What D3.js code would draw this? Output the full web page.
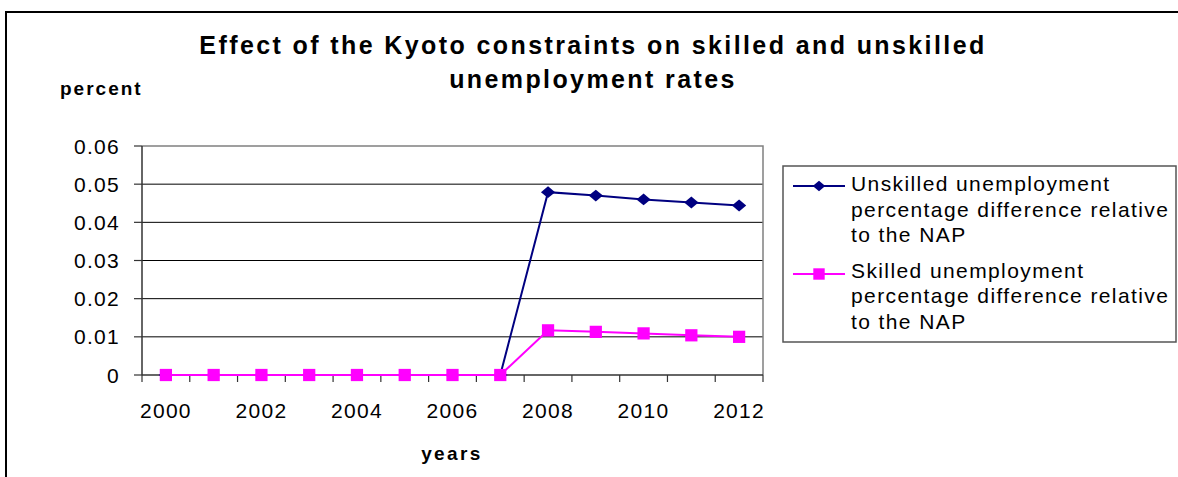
<!DOCTYPE html>
<html>
<head>
<meta charset="utf-8">
<script src="https://cdn.jsdelivr.net/npm/d3@7"></script>
<style>
  body { margin: 0; background: #fff; }
  text { font-family: "Liberation Sans", Arial, sans-serif; fill: #000; }
</style>
</head>
<body>
<svg id="chart" width="1178" height="477"></svg>
<script>
const years = [2000, 2001, 2002, 2003, 2004, 2005, 2006, 2007, 2008, 2009, 2010, 2011, 2012];
const unskilled = [0, 0, 0, 0, 0, 0, 0, 0, 0.0479, 0.0470, 0.0460, 0.0452, 0.0444];
const skilled = [0, 0, 0, 0, 0, 0, 0, 0, 0.0117, 0.0113, 0.0109, 0.0104, 0.0100];
const yTicks = [0, 0.01, 0.02, 0.03, 0.04, 0.05, 0.06];
const xLabels = [2000, 2002, 2004, 2006, 2008, 2010, 2012];

const svg = d3.select('#chart');

// outer frame (runs off right and bottom)
svg.append('rect')
    .attr('x', 6).attr('y', 12).attr('width', 1200).attr('height', 500)
    .attr('fill', 'none').attr('stroke', '#000').attr('stroke-width', 2);

const plot = {left: 142, right: 763, top: 146, bottom: 375};

const x = d3.scaleBand().domain(years).range([plot.left, plot.right]);
const cx = d => x(d) + x.bandwidth() / 2;
const y = d3.scaleLinear().domain([0, 0.06]).range([plot.bottom, plot.top]);

// diamond a bit wider than tall, like the excel marker
const wideDiamond = {
    draw(ctx, size) {
        const w = Math.sqrt(size) * 0.6, h = Math.sqrt(size) * 0.5;
        ctx.moveTo(0, -h); ctx.lineTo(w, 0); ctx.lineTo(0, h); ctx.lineTo(-w, 0); ctx.closePath();
    }
};

// gridlines
svg.append('g').selectAll('line')
    .data(yTicks.filter(t => t > 0 && t < 0.06))
    .enter().append('line')
    .attr('x1', plot.left).attr('x2', plot.right)
    .attr('y1', d => y(d)).attr('y2', d => y(d))
    .attr('stroke', '#000').attr('stroke-width', 1);

// plot area border (top + right)
svg.append('path')
    .attr('d', `M${plot.left},${y(0.06)}H${plot.right}V${plot.bottom}`)
    .attr('fill', 'none').attr('stroke', '#808080').attr('stroke-width', 1.5);

// y axis
const yAxis = svg.append('g');
yAxis.append('line')
    .attr('x1', plot.left).attr('x2', plot.left)
    .attr('y1', plot.top).attr('y2', plot.bottom)
    .attr('stroke', '#333').attr('stroke-width', 1.5);
yAxis.selectAll('line.tick')
    .data(yTicks).enter().append('line').classed('tick', true)
    .attr('x1', plot.left - 8).attr('x2', plot.left)
    .attr('y1', d => y(d)).attr('y2', d => y(d))
    .attr('stroke', '#333').attr('stroke-width', 1.2);
yAxis.selectAll('text')
    .data(yTicks).enter().append('text')
    .attr('x', 120).attr('y', d => y(d))
    .attr('text-anchor', 'end').attr('dominant-baseline', 'central')
    .attr('font-size', 21).attr('letter-spacing', 1.3)
    .text(d => d === 0 ? '0' : d.toFixed(2));

// x axis
const xAxis = svg.append('g');
xAxis.append('line')
    .attr('x1', plot.left).attr('x2', plot.right)
    .attr('y1', plot.bottom).attr('y2', plot.bottom)
    .attr('stroke', '#333').attr('stroke-width', 1.5);
const bounds = years.map(d => x(d)).concat([x.range()[1]]);
xAxis.selectAll('line.tick')
    .data(bounds).enter().append('line').classed('tick', true)
    .attr('x1', d => d).attr('x2', d => d)
    .attr('y1', plot.bottom).attr('y2', plot.bottom + 7)
    .attr('stroke', '#333').attr('stroke-width', 1.2);
xAxis.selectAll('text')
    .data(xLabels).enter().append('text')
    .attr('x', d => cx(d)).attr('y', 418)
    .attr('text-anchor', 'middle')
    .attr('font-size', 21).attr('letter-spacing', 1.3)
    .text(d => d);

// titles
const title = svg.append('text')
    .attr('text-anchor', 'middle').attr('font-size', 25)
    .attr('font-weight', 'bold').attr('letter-spacing', 2.4);
title.append('tspan').attr('x', 593).attr('y', 54)
    .text('Effect of the Kyoto constraints on skilled and unskilled');
title.append('tspan').attr('x', 593).attr('y', 88)
    .text('unemployment rates');

svg.append('text')
    .attr('x', 60).attr('y', 95)
    .attr('font-size', 19).attr('font-weight', 'bold').attr('letter-spacing', 2)
    .text('percent');

svg.append('text')
    .attr('x', 452).attr('y', 460).attr('text-anchor', 'middle')
    .attr('font-size', 19).attr('font-weight', 'bold').attr('letter-spacing', 2.4)
    .text('years');

// series
const line = d3.line().x((d, i) => cx(years[i])).y(d => y(d));

function drawSeries(values, color, shape, width) {
    const g = svg.append('g');
    g.append('path').datum(values)
        .attr('d', line)
        .attr('fill', 'none').attr('stroke', color).attr('stroke-width', width);
    g.selectAll('path.m')
        .data(values).enter().append('path').classed('m', true)
        .attr('d', shape)
        .attr('transform', (d, i) => `translate(${cx(years[i])},${y(d)})`)
        .attr('fill', color);
}
drawSeries(unskilled, '#000080', d3.symbol().type(wideDiamond).size(140), 2);
drawSeries(skilled, '#FF00FF', d3.symbol().type(d3.symbolSquare).size(150), 2);

// legend
const legend = svg.append('g');
legend.append('rect')
    .attr('x', 783).attr('y', 166).attr('width', 393).attr('height', 176)
    .attr('fill', '#fff').attr('stroke', '#555').attr('stroke-width', 1.5);

const legendItems = [
    {lines: ['Unskilled unemployment', 'percentage difference relative', 'to the NAP'],
     color: '#000080', shape: d3.symbol().type(wideDiamond).size(110), cy: 186, base: 191},
    {lines: ['Skilled unemployment', 'percentage difference relative', 'to the NAP'],
     color: '#FF00FF', shape: d3.symbol().type(d3.symbolSquare).size(130), cy: 274, base: 277.5}
];
legendItems.forEach(item => {
    legend.append('line')
        .attr('x1', 793).attr('x2', 845)
        .attr('y1', item.cy).attr('y2', item.cy)
        .attr('stroke', item.color).attr('stroke-width', 2);
    legend.append('path')
        .attr('d', item.shape)
        .attr('transform', `translate(819,${item.cy})`)
        .attr('fill', item.color);
    const t = legend.append('text')
        .attr('font-size', 21).attr('letter-spacing', 1.4);
    item.lines.forEach((s, i) => {
        t.append('tspan').attr('x', 851).attr('y', item.base + i * 25.7).text(s);
    });
});
</script>
</body>
</html>
